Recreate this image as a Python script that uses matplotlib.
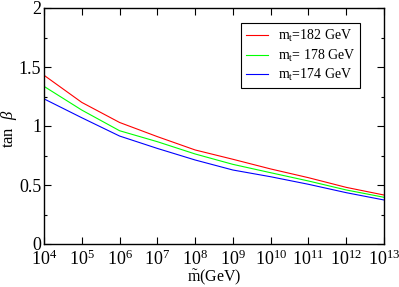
import numpy as np
import matplotlib
matplotlib.use("Agg")
import matplotlib.pyplot as plt
from matplotlib.ticker import LogLocator, MultipleLocator, NullFormatter, FixedLocator

plt.rcParams['font.family'] = ['Liberation Serif', 'DejaVu Serif']
plt.rcParams['mathtext.fontset'] = 'custom'
plt.rcParams['mathtext.rm'] = 'Liberation Serif'
plt.rcParams['mathtext.it'] = 'Liberation Serif:italic'

m_tilde = [1e4, 1e5, 1e6, 1e7, 1e8, 1e9, 1e10, 1e11, 1e12, 1e13]
tanb_182 = [1.43, 1.20, 1.03, 0.91, 0.797, 0.718, 0.636, 0.562, 0.48, 0.415]
tanb_178 = [1.336, 1.135, 0.96, 0.867, 0.763, 0.675, 0.604, 0.534, 0.458, 0.396]
tanb_174 = [1.23, 1.07, 0.915, 0.81, 0.712, 0.627, 0.57, 0.506, 0.435, 0.373]
labels = [r'm$_\mathregular{t}$=182 GeV', r'm$_\mathregular{t}$= 178 GeV', r'm$_\mathregular{t}$=174 GeV']
colors = ['#ff0000', '#00ff00', '#0000ff']
xticks = [1e4, 1e5, 1e6, 1e7, 1e8, 1e9, 1e10, 1e11, 1e12, 1e13]
xticklabels = [r'10$^{%d}$' % int(round(np.log10(v))) for v in xticks]

fig = plt.figure(figsize=(3.99, 2.87), dpi=100)
ax = fig.add_axes([44/399, 1-244/287, 340/399, 236/287])

for y, c, l in zip([tanb_182, tanb_178, tanb_174], colors, labels):
    ax.plot(m_tilde, y, color=c, lw=0.8, label=l)

ax.set_xscale('log')
ax.set_xlim(1e4, 1e13)
ax.set_ylim(0, 2)
ax.xaxis.set_major_locator(FixedLocator(xticks))
ax.set_xticklabels(xticklabels, fontsize=13)
ax.xaxis.set_minor_locator(LogLocator(base=10, subs=np.arange(2, 10)))
ax.xaxis.set_minor_formatter(NullFormatter())
ax.yaxis.set_major_locator(MultipleLocator(0.5))
ax.yaxis.set_minor_locator(MultipleLocator(0.25))
ax.set_yticks([0, 0.5, 1, 1.5, 2])
ax.set_yticklabels(['0', '0.5', '1', '1.5', '2'], fontsize=13)
ax.tick_params(which='both', direction='in', top=True, right=True)
ax.tick_params(which='major', length=5, width=0.8)
ax.tick_params(which='minor', length=2.5, width=0.8)
ax.tick_params(axis='x', which='major', pad=4)
ax.tick_params(axis='y', which='major', pad=2)
for s in ax.spines.values():
    s.set_linewidth(1.0)

ax.set_xlabel(r'$\tilde{\mathregular{m}}$(GeV)', fontsize=11.5, labelpad=-1)
ax.set_ylabel(r'tan  $\beta$', fontsize=12)
ax.yaxis.set_label_coords(-0.074, 0.49)

leg = ax.legend(loc='upper right', bbox_to_anchor=(360/399, 1-23/287), bbox_transform=fig.transFigure,
                borderaxespad=0, fontsize=10, frameon=True, fancybox=False, edgecolor='black', framealpha=1,
                handlelength=1.6, handletextpad=0.7, borderpad=0.35, labelspacing=0.25)
leg.get_frame().set_linewidth(0.8)

fig.savefig('out.png', dpi=100)
